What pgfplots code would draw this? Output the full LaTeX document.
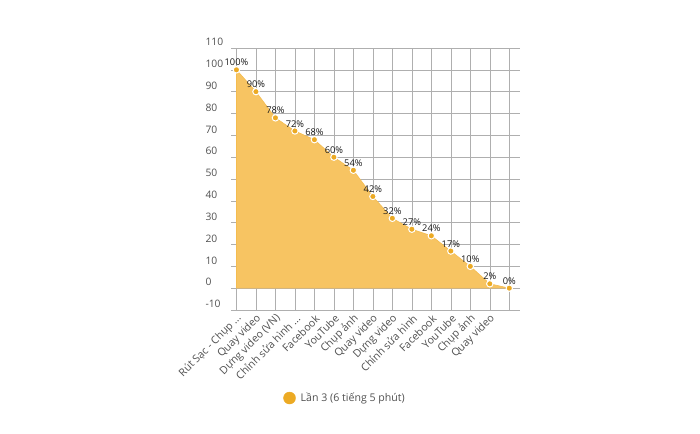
\documentclass[border=0pt]{standalone}
\usepackage{fontspec}
\setmainfont{Open Sans}
\usepackage{pgfplots}
\pgfplotsset{compat=1.18}
\definecolor{areafill}{RGB}{247,196,98}
\definecolor{areaedge}{RGB}{244,188,80}
\definecolor{mk}{RGB}{236,170,36}
\definecolor{gridc}{RGB}{175,175,175}
\definecolor{tickc}{RGB}{80,80,80}
\newcommand{\dd}{.\kern0pt.\kern0pt.}
\begin{document}
\begin{tikzpicture}
\path[use as bounding box] (0pt,0pt) rectangle (700pt,433pt);
\begin{axis}[
  at={(231pt,123pt)}, anchor=south west,
  scale only axis, width=289pt, height=262pt,
  xmin=-0.28, xmax=14.55, ymin=-10, ymax=110,
  ytick={-10,0,...,110},
  xtick={0,...,14},
  xticklabels={{Rút Sạc - Chụp \dd}, Quay video, Dựng video (VN), {Chỉnh sửa hình \dd}, Facebook, YouTube, Chụp ảnh, Quay video, Dựng video, Chỉnh sửa hình, Facebook, YouTube, Chụp ảnh, Quay video, {}},
  grid=major, major grid style={gridc, line width=0.6pt},
  axis line style={draw=none},
  major tick length=0pt,
  /pgf/number format/assume math mode=true,
  yticklabel style={anchor=west, xshift=-29pt, yshift=6pt, font=\fontsize{10.3}{12}\selectfont, text=tickc},
  xticklabel style={rotate=45, anchor=east, xshift=1pt, yshift=-7pt, font=\fontsize{10.6}{12}\selectfont, text=tickc},
  legend style={at={(axis description cs:0.17,-0.336)}, anchor=west, draw=none, fill=none, font=\fontsize{10.6}{12}\selectfont, text=tickc},
  legend image code/.code={\fill[mk] (0.35em,0) circle (6pt);},
  legend cell align=left,
  clip=false,
]
\addplot[fill=areafill, draw=areaedge, line width=0.6pt, forget plot] coordinates {
(0,100) (1,90) (2,78) (3,72) (4,68) (5,60) (6,54) (7,42) (8,32) (9,27) (10,24) (11,17) (12,10) (13,2) (14,0)
} \closedcycle;
\addplot[only marks, mark=*, mark size=3.2pt, mark options={fill=mk, draw=white, line width=1pt},
  nodes near coords={\pgfmathprintnumber{\pgfplotspointmeta}\%},
  point meta=y,
  nodes near coords style={font=\fontsize{9.3}{10}\selectfont, text=black!90, anchor=south, yshift=0pt}]
 coordinates {
(0,100) (1,90) (2,78) (3,72) (4,68) (5,60) (6,54) (7,42) (8,32) (9,27) (10,24) (11,17) (12,10) (13,2) (14,0)
};
\addlegendentry{\hspace{3pt}Lần 3 (6 tiếng 5 phút)}
\end{axis}
\end{tikzpicture}
\end{document}
